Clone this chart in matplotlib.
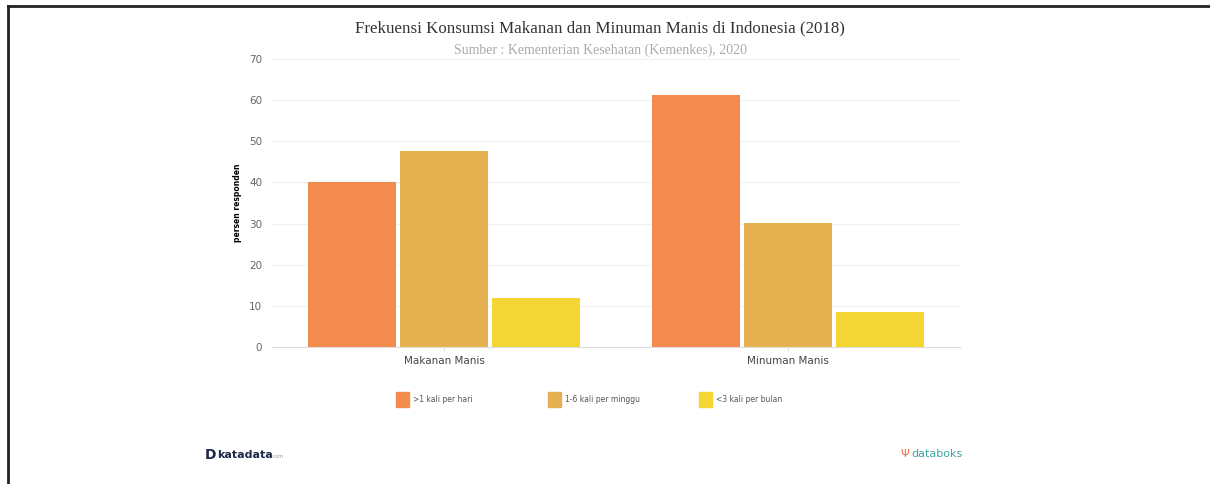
import numpy as np
import matplotlib.pyplot as plt
from matplotlib.lines import Line2D
from matplotlib.patches import Rectangle

# data
categories = ["Makanan Manis", "Minuman Manis"]
series_names = [">1 kali per hari", "1-6 kali per minggu", "<3 kali per bulan"]
val_hari = [40.0, 61.3]
val_minggu = [47.7, 30.1]
val_bulan = [11.9, 8.4]
colors = ["#F48B4E", "#E5B050", "#F3D634"]

fig = plt.figure(figsize=(12.1, 4.84), dpi=100)
ax = fig.add_axes([272 / 1210, 0.283, 688 / 1210, 0.595])

x = np.arange(len(categories))
w = 0.256
gap = 0.012
for i, (vals, c) in enumerate(zip([val_hari, val_minggu, val_bulan], colors)):
    ax.bar(x + (i - 1) * (w + gap), vals, width=w, color=c, zorder=2)

ax.set_xlim(-0.5, 1.5)
ax.set_ylim(0, 70)
ax.set_yticks(range(0, 71, 10))
ax.yaxis.grid(True, color="#EFEFEF", linewidth=0.8, zorder=0)
for s in ["top", "right", "left"]:
    ax.spines[s].set_visible(False)
ax.spines["bottom"].set_color("#DDDDDD")
ax.tick_params(axis="y", length=0, labelsize=7.5, colors="#666666", pad=7)
ax.tick_params(axis="x", length=3, color="#DDDDDD", labelsize=7.5, labelcolor="#444444")
ax.set_xticks(x)
ax.set_xticklabels(categories)
ax.set_ylabel("persen responden", fontsize=5.5, fontweight="bold", labelpad=5)

# titles
fig.text(0.496, 0.942, "Frekuensi Konsumsi Makanan dan Minuman Manis di Indonesia (2018)",
         ha="center", va="center", family="Liberation Serif", fontsize=12.2, color="#333333")
fig.text(0.496, 0.897, "Sumber : Kementerian Kesehatan (Kemenkes), 2020",
         ha="center", va="center", family="Liberation Serif", fontsize=10, color="#AAAAAA")

# legend
leg_x = [396, 548, 699]
for lx, name, c in zip(leg_x, series_names, colors):
    fig.patches.append(Rectangle((lx / 1210, 1 - 407 / 484), 13 / 1210, 15 / 484,
                                 transform=fig.transFigure, color=c))
    fig.text((lx + 17) / 1210, 1 - 399 / 484, name, fontsize=5.5, color="#555555",
             va="center", ha="left")

# logos
fig.text(205 / 1210, 1 - 455 / 484, "D", fontsize=10, fontweight="bold", color="#1E2A4A",
         va="center", ha="left")
fig.text(217 / 1210, 1 - 455 / 484, "katadata", fontsize=8, fontweight="bold", color="#1E2A4A",
         va="center", ha="left")
fig.text(271 / 1210, 1 - 456 / 484, ".com", fontsize=3.5, color="#999999", va="center", ha="left")
fig.text(900 / 1210, 1 - 454 / 484, "\u03a8", fontsize=8, color="#F07050", va="center", ha="left")
fig.text(911 / 1210, 1 - 454 / 484, "databoks", fontsize=8, color="#3AA6A0", va="center", ha="left")

# frame
fig.add_artist(Line2D([8 / 1210, 8 / 1210], [0, 1 - 6 / 484], transform=fig.transFigure,
                      color="#222222", linewidth=2))
fig.add_artist(Line2D([8 / 1210, 1], [1 - 6 / 484, 1 - 6 / 484], transform=fig.transFigure,
                      color="#222222", linewidth=2))

fig.savefig("out.png", dpi=100)
